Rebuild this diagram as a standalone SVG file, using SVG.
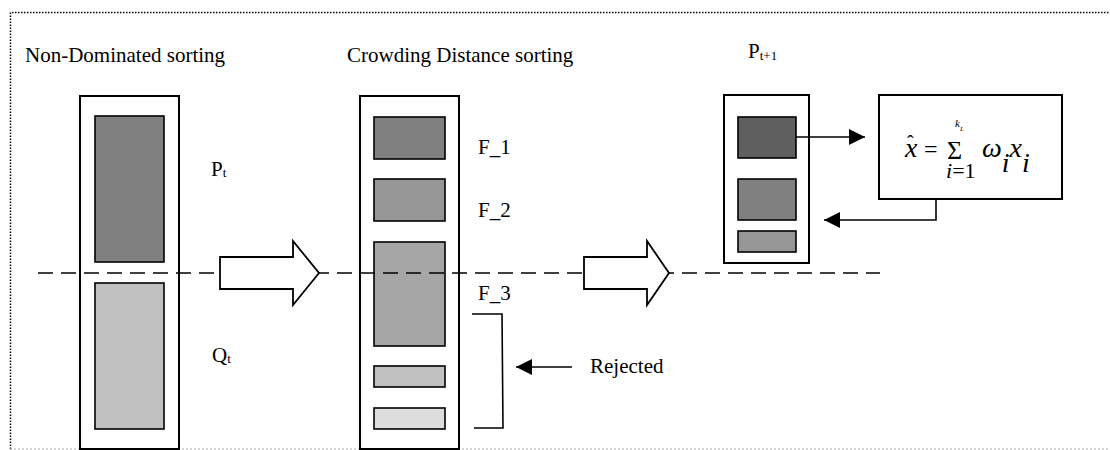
<svg xmlns="http://www.w3.org/2000/svg" width="1110" height="450" viewBox="0 0 1110 450">
<defs>
<style>
.t{font-family:"Liberation Serif","Times New Roman",serif;font-size:21px;fill:#000}
.sub{font-family:"Liberation Serif","Times New Roman",serif;font-size:13px;fill:#000}
.m{font-family:"Liberation Serif","Times New Roman",serif;font-style:italic;fill:#000}
.col{fill:#fff;stroke:#000;stroke-width:2}
.blk{stroke:#000;stroke-width:1.6}
.conn{fill:none;stroke:#000;stroke-width:1.6}
.big{fill:#fff;stroke:#000;stroke-width:1.8;stroke-linejoin:miter}
</style>
<marker id="ah" markerWidth="16" markerHeight="16" refX="16" refY="8" orient="auto" markerUnits="userSpaceOnUse">
<path d="M0,0 L16,8 L0,16 Z" fill="#000"/>
</marker>
</defs>
<rect width="1110" height="450" fill="#fff"/>
<g id="frame">
<path d="M10.5,449 L10.5,12.5 L1110,12.5" fill="none" stroke="#000" stroke-width="1.5" stroke-dasharray="1.5,1.5"/>
<path d="M10,449 L1110,449" fill="none" stroke="#aaa" stroke-width="1" stroke-dasharray="2,2"/>
</g>
<g id="titles">
<text class="t" x="25" y="62">Non-Dominated sorting</text>
<text class="t" x="347" y="62">Crowding Distance sorting</text>
<text class="t" x="748" y="58">P<tspan class="sub" dy="2">t+1</tspan></text>
</g>
<g id="col-nondominated">
<rect class="col" x="80" y="96" width="99" height="353"/>
<rect class="blk" x="95" y="116" width="69" height="146" fill="#808080"/>
<rect class="blk" x="95" y="283" width="69" height="146" fill="#c0c0c0"/>
<text class="t" x="211" y="176">P<tspan class="sub" dy="1">t</tspan></text>
<text class="t" x="212" y="362">Q<tspan class="sub" dy="1">t</tspan></text>
</g>
<g id="col-crowding">
<rect class="col" x="360" y="96" width="99" height="353"/>
<rect class="blk" x="374" y="117" width="71" height="42" fill="#808080"/>
<rect class="blk" x="374" y="179" width="71" height="42" fill="#969696"/>
<rect class="blk" x="374" y="242" width="71" height="104" fill="#a6a6a6"/>
<rect class="blk" x="374" y="366" width="71" height="21" fill="#c0c0c0"/>
<rect class="blk" x="374" y="408" width="71" height="21" fill="#dddddd"/>
<text class="t" x="478" y="154">F_1</text>
<text class="t" x="478" y="217">F_2</text>
<text class="t" x="478" y="300">F_3</text>
</g>
<g id="rejected">
<path class="conn" d="M472,314 L502,314 L503,428 L474,428"/>
<text class="t" x="590" y="373">Rejected</text>
</g>
<g id="col-next">
<rect class="col" x="724" y="95" width="85" height="168"/>
<rect class="blk" x="738" y="117" width="58" height="41" fill="#5f5f5f"/>
<rect class="blk" x="738" y="179" width="58" height="41" fill="#808080"/>
<rect class="blk" x="738" y="231" width="58" height="21" fill="#969696"/>
</g>
<g id="formula">
<rect class="col" x="879" y="95" width="183" height="104"/>
<text class="m" x="905" y="157" font-size="28">x</text>
<text x="907" y="150" style="font-family:'Liberation Serif',serif;font-size:20px">ˆ</text>
<text x="924" y="157" style="font-family:'Liberation Serif',serif;font-size:24px">=</text>
<text x="947" y="159" style="font-family:'Liberation Serif',serif;font-size:26px">Σ</text>
<text class="m" x="955" y="127" font-size="11">k<tspan font-size="7" dy="4">L</tspan></text>
<text x="946" y="178" style="font-family:'Liberation Serif',serif;font-size:22px"><tspan font-style="italic">i</tspan>=1</text>
<text class="m" x="982" y="157" font-size="28">ω<tspan dy="15">i</tspan><tspan dy="-15">x</tspan><tspan dy="15">i</tspan></text>
</g>
<g id="connectors">
<path d="M38,273 L880,273" fill="none" stroke="#000" stroke-width="1.6" stroke-dasharray="15,8"/>
<path class="big" d="M220,257 L293,257 L293,241 L319,273 L293,305 L293,289 L220,289 Z"/>
<path class="big" d="M584,257 L647,257 L647,241 L669,273 L647,305 L647,289 L584,289 Z"/>
<path class="conn" d="M572,367 L516,367" marker-end="url(#ah)"/>
<path class="conn" d="M796,137 L865,137" marker-end="url(#ah)"/>
<path class="conn" d="M936,199 L936,220 L824,220" marker-end="url(#ah)"/>
</g>
</svg>
